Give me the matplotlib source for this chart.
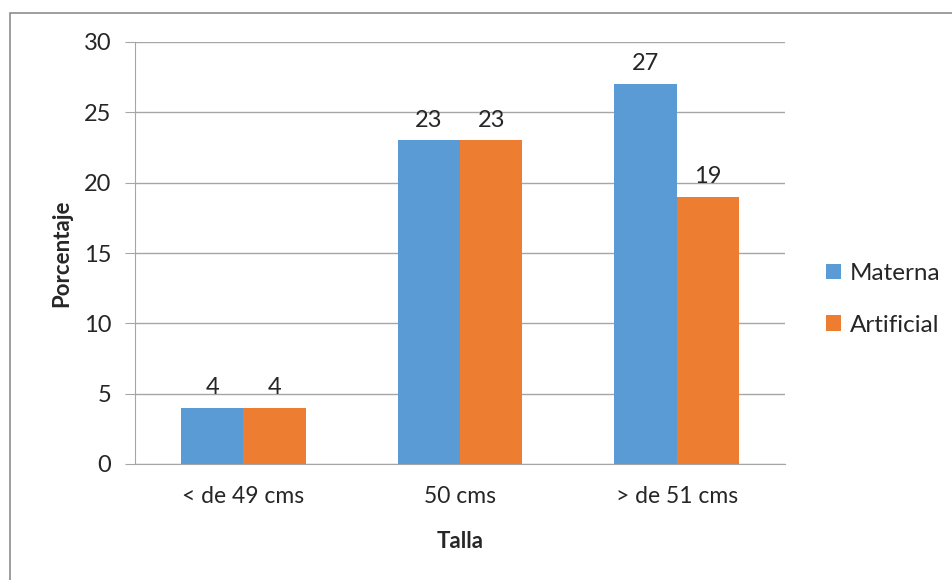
import matplotlib
matplotlib.use("Agg")
import matplotlib.pyplot as plt
from matplotlib.patches import Rectangle
import numpy as np

categories = ["< de 49 cms", "50 cms", "> de 51 cms"]
materna = [4, 23, 27]
artificial = [4, 23, 19]
series_names = ["Materna", "Artificial"]
yticks = [0, 5, 10, 15, 20, 25, 30]

BLUE = "#5B9BD5"
ORANGE = "#ED7D31"
GRID = "#A6A6A6"
TEXT = "#262626"

plt.rcParams["font.family"] = ["Lato", "DejaVu Sans"]

W, H = 953, 580
fig = plt.figure(figsize=(W / 100, H / 100), dpi=100)
fig.patch.set_facecolor("white")

# outer chart frame
fig.add_artist(Rectangle((10 / W, -0.1), 1.2, (H - 13) / H + 0.1,
                         transform=fig.transFigure, fill=False,
                         edgecolor="#8C8C8C", linewidth=1.2))

ax = fig.add_axes([135 / W, 1 - 464 / H, (785 - 135) / W, (464 - 42) / H])
x = np.arange(len(categories))
bw = 0.288
b1 = ax.bar(x - bw / 2, materna, bw, color=BLUE, label=series_names[0])
b2 = ax.bar(x + bw / 2, artificial, bw, color=ORANGE, label=series_names[1])

for bars, vals in ((b1, materna), (b2, artificial)):
    for r, v in zip(bars, vals):
        ax.annotate(f"{v}", (r.get_x() + r.get_width() / 2, v),
                    xytext=(0, 7), textcoords="offset points",
                    ha="center", va="bottom", fontsize=17, color=TEXT)

ax.set_xlim(-0.5, len(categories) - 0.5)
ax.set_ylim(0, 30)
ax.set_yticks(yticks)
ax.set_xticks(x)
ax.set_xticklabels(categories)
ax.yaxis.grid(True, color=GRID, linewidth=1)
ax.set_axisbelow(True)
for s in ("top", "right"):
    ax.spines[s].set_visible(False)
for s in ("left", "bottom"):
    ax.spines[s].set_color(GRID)
ax.tick_params(axis="y", length=7, color=GRID, labelsize=17, labelcolor=TEXT, pad=10)
ax.tick_params(axis="x", length=0, labelsize=16.5, labelcolor=TEXT, pad=16)

ax.set_ylabel("Porcentaje", fontsize=16, fontweight="bold", color=TEXT, labelpad=8)
ax.set_xlabel("Talla", fontsize=16, fontweight="bold", color=TEXT, labelpad=17)

leg = ax.legend(loc="center left", bbox_to_anchor=(1.03, 0.39), frameon=False,
                fontsize=17.5, handlelength=0.6, handleheight=0.6,
                handletextpad=0.35, labelspacing=1.25, labelcolor=TEXT)

fig.savefig("out.png", dpi=100, facecolor="white")
